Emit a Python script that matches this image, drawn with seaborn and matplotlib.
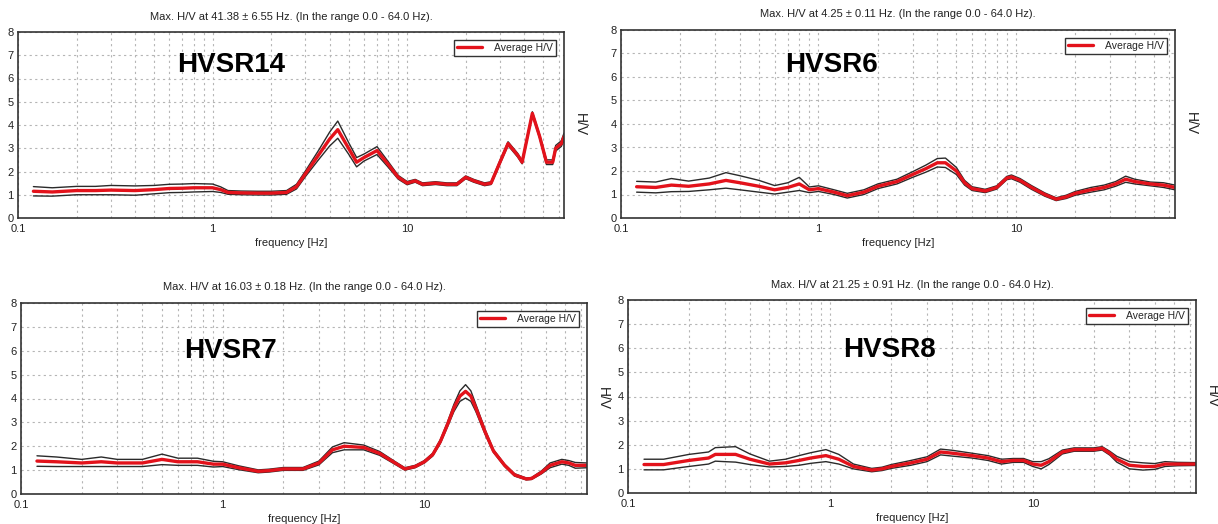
"""
HVSR curves for four stations (average H/V with +/- one standard deviation).
"""

import matplotlib.pyplot as plt
import numpy as np
import pandas as pd
import seaborn as sns
from matplotlib.ticker import FixedLocator, LogLocator, NullFormatter

# ---- data ------------------------------------------------------------------
freq_14 = [0.12, 0.15, 0.2, 0.25, 0.3, 0.4, 0.5, 0.6, 0.7, 0.8, 0.9, 1.0, 1.1, 1.2, 1.4,
           1.7, 2.0, 2.4, 2.7, 3.0, 3.5, 4.0, 4.4, 5.0, 5.5, 6.0, 7.0, 8.0, 9.0, 10,
           11, 12, 14, 16, 18, 20, 22, 25, 27, 30, 33, 37, 39, 44, 48, 52, 56, 58, 62, 64]
hv_14 = [1.15, 1.12, 1.18, 1.18, 1.2, 1.18, 1.22, 1.27, 1.28, 1.3, 1.3, 1.3, 1.22, 1.1, 1.08,
         1.07, 1.07, 1.1, 1.35, 1.9, 2.7, 3.4, 3.8, 3.0, 2.4, 2.6, 2.9, 2.3, 1.75, 1.5,
         1.6, 1.45, 1.5, 1.45, 1.45, 1.75, 1.6, 1.45, 1.5, 2.4, 3.2, 2.7, 2.4, 4.5, 3.5,
         2.4, 2.4, 3.0, 3.2, 3.5]
std_14 = [0.2, 0.18, 0.18, 0.18, 0.2, 0.2, 0.18, 0.18, 0.18, 0.18, 0.17, 0.16, 0.12, 0.08, 0.08,
          0.08, 0.08, 0.08, 0.1, 0.12, 0.2, 0.3, 0.37, 0.25, 0.2, 0.15, 0.17, 0.12, 0.08, 0.07,
          0.06, 0.06, 0.06, 0.06, 0.06, 0.06, 0.06, 0.06, 0.06, 0.08, 0.08, 0.08, 0.07, 0.07, 0.08,
          0.1, 0.1, 0.12, 0.12, 0.15]

freq_6 = [0.12, 0.15, 0.18, 0.22, 0.28, 0.34, 0.4, 0.5, 0.6, 0.7, 0.8, 0.9, 1.0, 1.2, 1.4,
          1.7, 2.0, 2.5, 3.0, 3.5, 4.0, 4.4, 5.0, 5.5, 6.0, 7.0, 8.0, 9.0, 9.5, 10.5,
          12, 14, 16, 18, 20, 24, 28, 32, 36, 40, 48, 56, 64]
hv_6 = [1.33, 1.3, 1.4, 1.35, 1.45, 1.6, 1.5, 1.35, 1.2, 1.3, 1.45, 1.2, 1.25, 1.1, 0.95,
        1.1, 1.35, 1.55, 1.85, 2.1, 2.35, 2.35, 2.0, 1.5, 1.25, 1.15, 1.3, 1.7, 1.75, 1.6,
        1.3, 1.0, 0.8, 0.9, 1.05, 1.2, 1.3, 1.45, 1.65, 1.55, 1.45, 1.4, 1.3]
std_6 = [0.23, 0.23, 0.28, 0.22, 0.25, 0.33, 0.3, 0.25, 0.18, 0.2, 0.28, 0.12, 0.12, 0.1, 0.1,
         0.1, 0.1, 0.1, 0.12, 0.15, 0.18, 0.2, 0.15, 0.1, 0.08, 0.07, 0.07, 0.07, 0.08, 0.08,
         0.08, 0.07, 0.06, 0.07, 0.08, 0.1, 0.1, 0.1, 0.13, 0.1, 0.08, 0.1, 0.1]

freq_7 = [0.12, 0.15, 0.2, 0.25, 0.3, 0.4, 0.5, 0.6, 0.75, 0.9, 1.0, 1.2, 1.5, 1.7, 2.0,
          2.5, 3.0, 3.5, 4.0, 5.0, 6.0, 7.0, 8.0, 9.0, 10, 11, 12, 13, 14, 15,
          16, 17, 18, 20, 22, 25, 28, 32, 34, 38, 42, 48, 52, 56, 64]
hv_7 = [1.38, 1.35, 1.3, 1.35, 1.3, 1.3, 1.45, 1.35, 1.35, 1.25, 1.25, 1.1, 0.95, 0.98, 1.05,
        1.05, 1.3, 1.85, 2.0, 1.95, 1.7, 1.35, 1.05, 1.15, 1.35, 1.65, 2.2, 2.9, 3.6, 4.1,
        4.3, 4.1, 3.6, 2.6, 1.8, 1.2, 0.8, 0.63, 0.65, 0.9, 1.2, 1.35, 1.3, 1.2, 1.2]
std_7 = [0.22, 0.2, 0.15, 0.2, 0.15, 0.15, 0.22, 0.15, 0.15, 0.12, 0.1, 0.08, 0.06, 0.06, 0.06,
         0.06, 0.08, 0.12, 0.15, 0.1, 0.08, 0.06, 0.05, 0.05, 0.05, 0.06, 0.08, 0.1, 0.15, 0.22,
         0.28, 0.22, 0.15, 0.1, 0.06, 0.05, 0.05, 0.04, 0.04, 0.06, 0.1, 0.1, 0.1, 0.12, 0.1]

freq_8 = [0.12, 0.15, 0.2, 0.25, 0.27, 0.3, 0.34, 0.4, 0.5, 0.6, 0.7, 0.8, 0.95, 1.1, 1.3,
          1.6, 1.8, 2.0, 2.5, 3.0, 3.5, 4.0, 5.0, 6.0, 7.0, 8, 9, 10, 11, 12,
          14, 16, 20, 22, 24, 26, 30, 35, 40, 45, 52, 64]
hv_8 = [1.18, 1.18, 1.35, 1.45, 1.6, 1.6, 1.6, 1.4, 1.2, 1.25, 1.35, 1.45, 1.55, 1.4, 1.1,
        0.95, 1.0, 1.1, 1.25, 1.4, 1.7, 1.65, 1.55, 1.45, 1.3, 1.35, 1.35, 1.2, 1.15, 1.3,
        1.7, 1.8, 1.8, 1.85, 1.65, 1.4, 1.15, 1.1, 1.1, 1.2, 1.2, 1.2]
std_8 = [0.22, 0.22, 0.25, 0.25, 0.28, 0.3, 0.32, 0.22, 0.12, 0.15, 0.2, 0.22, 0.25, 0.2, 0.1,
         0.07, 0.07, 0.08, 0.1, 0.1, 0.12, 0.12, 0.1, 0.1, 0.1, 0.08, 0.08, 0.1, 0.15, 0.12,
         0.08, 0.07, 0.07, 0.07, 0.08, 0.12, 0.15, 0.15, 0.12, 0.1, 0.07, 0.06]

stations = ["HVSR14", "HVSR6", "HVSR7", "HVSR8"]
titles = [
    "Max. H/V at 41.38 ± 6.55 Hz. (In the range 0.0 - 64.0 Hz).",
    "Max. H/V at 4.25 ± 0.11 Hz. (In the range 0.0 - 64.0 Hz).",
    "Max. H/V at 16.03 ± 0.18 Hz. (In the range 0.0 - 64.0 Hz).",
    "Max. H/V at 21.25 ± 0.91 Hz. (In the range 0.0 - 64.0 Hz).",
]
x_ticks = [0.1, 1, 10]
x_tick_labels = ["0.1", "1", "10"]
y_ticks = [0, 1, 2, 3, 4, 5, 6, 7, 8]

# ---- layout ----------------------------------------------------------------
W, H = 1218, 524
# (left, top, right, bottom) in pixels, station label position in axes fraction
panels = [
    dict(box=(18, 32, 564, 218), label_xy=(0.39, 0.82), freq=freq_14, hv=hv_14, std=std_14),
    dict(box=(621, 30, 1175, 218), label_xy=(0.38, 0.815), freq=freq_6, hv=hv_6, std=std_6),
    dict(box=(21, 303, 587, 494), label_xy=(0.37, 0.75), freq=freq_7, hv=hv_7, std=std_7),
    dict(box=(628, 300, 1196, 493), label_xy=(0.46, 0.74), freq=freq_8, hv=hv_8, std=std_8),
]

sns.set_style("white")
plt.rcParams["font.family"] = ["Liberation Sans", "DejaVu Sans"]

RED = "#e3121b"
DARK = "#2a2a2a"

fig = plt.figure(figsize=(W / 100, H / 100), dpi=100)

for p, name, title in zip(panels, stations, titles):
    l, t, r, b = p["box"]
    ax = fig.add_axes([l / W, 1 - b / H, (r - l) / W, (b - t) / H])

    df = pd.DataFrame({"freq": p["freq"], "hv": p["hv"], "std": p["std"]})
    df["upper"] = df["hv"] + df["std"]
    df["lower"] = df["hv"] - df["std"]

    sns.lineplot(data=df, x="freq", y="upper", color=DARK, lw=1.0, ax=ax)
    sns.lineplot(data=df, x="freq", y="lower", color=DARK, lw=1.0, ax=ax)
    sns.lineplot(data=df, x="freq", y="hv", color=RED, lw=2.4, ax=ax, label="Average H/V")

    ax.set_xscale("log")
    ax.set_xlim(0.1, 64)
    ax.set_ylim(0, 8)
    ax.xaxis.set_major_locator(FixedLocator(x_ticks))
    ax.set_xticklabels(x_tick_labels)
    ax.xaxis.set_minor_locator(LogLocator(base=10, subs=np.arange(2, 10)))
    ax.xaxis.set_minor_formatter(NullFormatter())
    ax.set_yticks(y_ticks)

    ax.grid(True, which="both", axis="x", color="#b5b5b5", ls=(0, (2, 3)), lw=0.8)
    ax.grid(True, which="major", axis="y", color="#b5b5b5", ls=(0, (2, 3)), lw=0.8)
    ax.tick_params(axis="both", which="both", length=0, labelsize=8, colors="#222222")
    ax.tick_params(axis="x", pad=4)
    ax.tick_params(axis="y", pad=3)

    for sp in ax.spines.values():
        sp.set_visible(True)
        sp.set_color("#333333")
        sp.set_linewidth(1.2)

    ax.set_title(title, fontsize=8, pad=9, color="#222222")
    ax.set_xlabel("frequency [Hz]", fontsize=8, labelpad=3, color="#222222")
    ax.set_ylabel("")
    ax.text(1.0 + 16 / (r - l), 0.5, "H/V", rotation=270, transform=ax.transAxes,
            ha="center", va="center", fontsize=10, color="#222222")

    ax.text(*p["label_xy"], name, transform=ax.transAxes, ha="center", va="center",
            fontsize=20, fontweight="bold", color="black")

    ax.legend(loc="upper right", fontsize=7.5, frameon=True, fancybox=False,
              edgecolor="#333333", framealpha=1, handlelength=2.4, handletextpad=1.2,
              borderpad=0.25, borderaxespad=0.8)

fig.savefig("out.png", dpi=100)
